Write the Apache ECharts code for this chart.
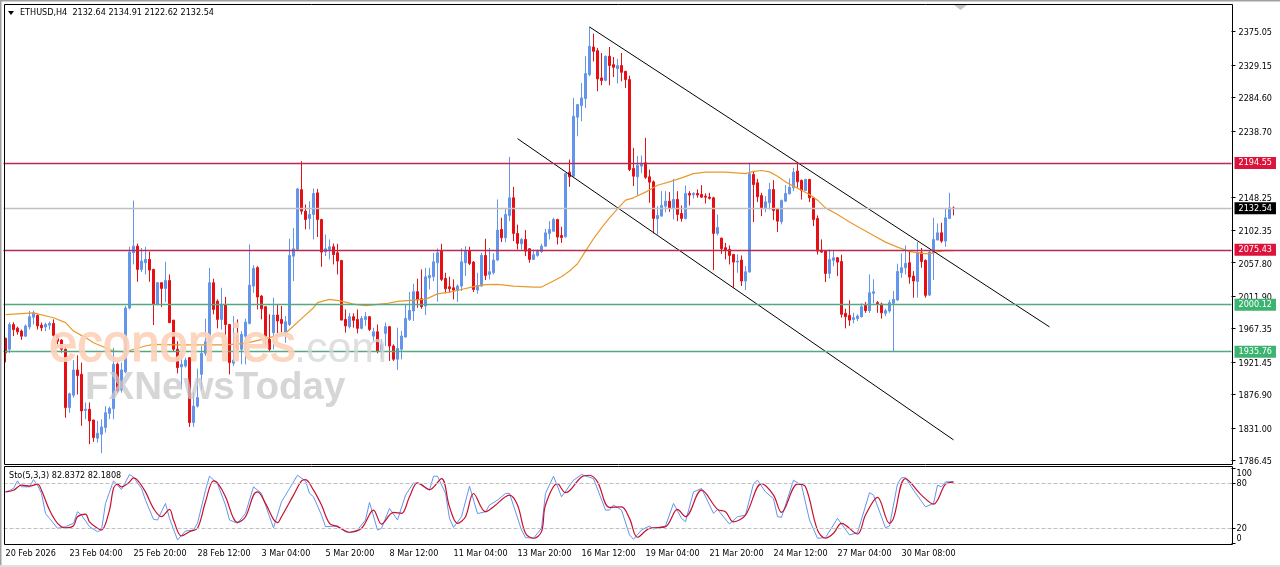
<!DOCTYPE html>
<html><head><meta charset="utf-8">
<style>html,body{margin:0;padding:0;background:#fff}#c{width:1280px;height:567px}</style>
<script src="https://cdn.jsdelivr.net/npm/echarts@6/dist/echarts.min.js"></script>
</head><body><div id="c"></div>
<script>
const tickLabels=['20 Feb 2026','23 Feb 04:00','25 Feb 20:00','28 Feb 12:00','3 Mar 04:00','5 Mar 20:00','8 Mar 12:00','11 Mar 04:00','13 Mar 20:00','16 Mar 12:00','19 Mar 04:00','21 Mar 20:00','24 Mar 12:00','27 Mar 04:00','30 Mar 08:00'];
const priceTicks=[2375.05,2329.15,2284.60,2238.70,2148.25,2102.35,2057.80,2011.90,1967.35,1921.45,1876.90,1831.00,1786.45];
const opens=[1954,1939,1973,1968,1964,1957,1969.6,1983,1985.5,1972,
1969.5,1972,1974.5,1958,1951.7,1939,1859,1876,1910.6,1904.6,
1855,1856.7,1842,1817,1822.4,1831.6,1851,1857.6,1918.4,1883,
1908,1995.6,2071.4,2080.5,2048.6,2057.7,2062.3,2048.6,2000.6,2030.3,
2022.5,2033.5,1979,1939,1914.7,1916,1927.5,1838.4,1861,1904.6,
1933.4,1949.4,2030.3,2005,1980,2000,1973,1919.8,1957,1939,
1957,1974.5,2025.7,2051,2012,1997.4,1952.6,1961.8,1986,1980,
1961.8,1973,2066.8,2076,2158,2128.5,2118.5,2124,2153.6,2117,
2072.8,2076,2079.6,2071.4,2060.9,1980,1970,1983.7,1980,1967.7,
1980,1983.7,1957,1963,1937.6,1960.8,1970,1943.5,1925.3,1939,
1955.8,1980,1991.5,2018,2008.4,1998.3,2037,2038.5,2057.7,2073.7,
2036.2,2024.8,2023.4,2019.8,2025.7,2057.7,2073.7,2058.6,2020.2,2025.7,
2067.8,2041.7,2044,2061.4,2103.4,2092,2122.6,2146.8,2098,2083.7,
2089.7,2076.9,2062.3,2067.8,2073.2,2080.5,2098,2101,2117,2095,
2093.4,2182,2176.5,2257.4,2273.3,2282.9,2315.8,2353.7,2348.7,2311.3,
2308,2341,2329.5,2324,2328.2,2320.4,2309,2187,2175.6,2190.2,
2194.8,2175.6,2168.7,2118,2121.7,2135.4,2142.2,2132.2,2144.5,2125.3,
2118.5,2152.8,2151,2152.8,2151.4,2149,2147.7,2146.8,2098,2091.5,
2078.3,2076,2069.2,2058.6,2061.4,2032.6,2045,2178.8,2167.4,2150,
2132.2,2140,2158.2,2130.8,2114,2142.2,2152.3,2160.5,2183.4,2170.6,
2156.9,2172,2146.8,2118.5,2075,2073.7,2043,2061,2064.6,2059.5,
1988.3,1985.5,1980,1981,1983.7,1999.2,1992,2015.7,2003,2001,
1988.3,1991.5,2002,2006.6,2044,2050.9,2057.7,2039.4,2032,2071.4,
2060.9,2013.4,2071.4,2088.8,2098.8,2087.4,2118.5,2132.64];
const closes=[1934,1973,1966,1963,1957,1971,1983.7,1989,1971,1968.6,
1973,1974.5,1958,1950,1939,1859,1878,1910.6,1903,1854.4,
1856.7,1840.7,1818,1823.8,1832.5,1852,1858,1918.4,1881.8,1910.6,
1995.6,2072.3,2080.5,2048.6,2060,2062.3,2047.6,2000.6,2030.3,2022.5,
2033.5,1975.5,1939,1913.8,1918.4,1924,1838.4,1861,1872.7,1933.4,
1949.4,2030.3,1993.7,1980,2000.6,1973,1920.7,1924.3,1939,1959.5,
1976.4,2027,2050,2010.7,1994.6,1957,1939,1986,1977.8,1974.5,
1976.8,2067.8,2076.9,2159,2128.5,2117,2124,2152.7,2117,2072.3,
2076.9,2079.6,2069,2060,1979,1971,1983.7,1978.7,1967.7,1981.4,
1983.7,1966.3,1963,1936.6,1945.8,1970,1943.5,1925.3,1940.3,1957.2,
1981.4,1992.4,2018,2007.4,1997.4,2038.5,2040.3,2059,2071.4,2034.9,
2022,2022,2020.2,2025.7,2059,2073.7,2056.8,2021.1,2026.6,2067.8,
2040.3,2045.4,2061.4,2102.5,2092,2124,2146.8,2098,2084.2,2089.7,
2073.7,2062.3,2068.7,2073.7,2080.5,2098.8,2103.4,2117,2092.9,2092.4,
2180,2175.6,2258.7,2274.7,2283.8,2317.2,2354.7,2347.8,2309.9,2307.6,
2341,2328.2,2325.9,2328.2,2319,2309,2185.6,2176.5,2191.6,2193.9,
2175,2168.3,2118.5,2122.6,2136.3,2142.2,2132.2,2144.5,2124,2118.5,
2152.8,2150.5,2152.8,2150.5,2147.7,2147.7,2146,2098,2106.2,2077,
2075,2067.8,2058.6,2060,2032.6,2045.4,2179.7,2165,2148.2,2133,
2141.3,2158.2,2129.4,2114.8,2143,2152.8,2161.4,2182,2168.7,2156.9,
2172,2146.8,2117,2073.7,2072.3,2043,2062.3,2064.6,2058.6,1987,
1983.7,1979,1982.4,1984.6,1997.4,1992,2016.6,2018,2000.6,1989,
1992,2003,2007.5,2045.8,2050.9,2056.8,2038,2032.6,2071.4,2059.5,
2013,2072.3,2089.7,2098.8,2087.4,2119.4,2133,2132.54];
const lows=[1921,1934,1957,1959,1952,1956,1966,1973,1966,1964,
1964,1966,1956,1943.5,1934.4,1845,1852,1872.7,1877,1834,
1843,1808.7,1812,1811,1796.4,1824.7,1843,1843,1879.5,1879.5,
1906,1993.7,2055.4,2031.6,2045,2041.7,2031.6,1972.3,1999.2,1997,
2003.8,1975.5,1935.7,1906,1884,1913.8,1832.5,1832.5,1859,1884,
1930,1945,1987,1967.7,1966.3,1957,1904.6,1916,1934.4,1918.4,
1918.4,1973.2,2016.6,1993.7,1980,1943.5,1936.6,1939,1959.5,1960.8,
1948,1971,2032.6,2076,2124,2103.4,2103.4,2089.7,2093,2052.2,
2066.8,2062.3,2055.4,2041.7,1979,1961.8,1967.7,1968.6,1960.8,1966.3,
1971,1964,1950.4,1933.4,1926,1943.5,1923,1923,1910.6,1925.3,
1955,1977.8,1977.8,1996,1994.6,1986,2021.1,2032.6,2004.3,2032.6,
2015.7,2016.6,2007.4,2003.8,2018.9,2039.4,2054.5,2017.5,2015.2,2024.8,
2034,2034.9,2041.7,2060,2086,2086,2114.8,2087.4,2076,2076,
2066.8,2057.7,2061.4,2066,2071.4,2079.6,2089.7,2100.2,2082.8,2085,
2092,2161.8,2175.6,2231.3,2251.9,2270.2,2313.5,2334,2293,2301.2,
2306.7,2301.2,2312.6,2303.5,2306.7,2297.6,2183.3,2162.8,2150,2181,
2172.8,2140,2098,2096.6,2120.8,2127,2127.6,2117,2114.8,2114,
2117,2136.3,2146,2146.8,2146.8,2139,2144.5,2047.7,2095.2,2070,
2062.3,2055.4,2023.5,2044,2025.8,2020.3,2044,2113.5,2140.9,2121.7,
2127,2130.8,2116.2,2099.8,2110.3,2141.3,2151.4,2156,2160.5,2144.5,
2156,2140.9,2108,2069,2071.4,2031.2,2036.2,2053,2039.4,1982.4,
1967.7,1971,1974.5,1977.8,1982.4,1989,1989,2002,1989,1981,
1984.6,1989,1935.7,2005.2,2037,2041.7,2029,2009.8,2009.8,2050.9,
2009.8,2012,2034,2088.8,2085,2079.6,2118,2122.62];
const highs=[1955,1976,1976,1970,1966,1973,1991.5,1992,1987,1975.5,
1975.5,1977,1980,1959,1952.6,1943.5,1879.5,1924,1930.7,1920.7,
1866,1866,1842,1840.7,1843,1861,1860.3,1941,1920.7,1920.7,
1998.3,2079.6,2143,2084,2078,2079.6,2072.8,2049.5,2031.2,2031.2,
2059,2041.7,1979,1950,1934.4,1927.5,1927.5,1879.5,1912.4,1943.5,
1981,2050.8,2035.8,2007.5,2023.4,2011,1973,1984.6,1980,1964,
1981,2082.8,2054.5,2053,2013.4,1998.3,1987,2009.7,2000.6,1998.3,
1984.6,2090.6,2105.6,2160.5,2197,2137.6,2142,2159.6,2159,2118,
2096.5,2089.7,2084,2083.7,2061,1993.7,1989,1988.3,1993.7,1984.6,
1990,1984.6,1968.6,1973,1952.6,1975.5,1971,1945.8,1968.6,1964,
2000.6,2017.5,2029,2035.8,2048.6,2050.8,2050.8,2071.4,2077.3,2083.7,
2044,2038.5,2034.9,2028,2077.3,2080.5,2079.6,2060,2044,2071.4,
2090.6,2078,2070.5,2144.5,2119.4,2131.7,2203,2161.8,2110,2092,
2102.5,2077.8,2076,2076,2084,2104.3,2114.8,2119.4,2118,2107,
2181,2199.3,2283.8,2274.7,2304.4,2341,2381.2,2372,2352.4,2345.5,
2341.9,2353.7,2340,2337.3,2345.5,2320.4,2314.5,2215.3,2204,2204.8,
2229,2185.6,2170.6,2135.4,2156,2156,2154.6,2172.8,2156,2136.3,
2163.7,2156,2154.6,2158.2,2164.2,2152.8,2153.7,2148.2,2124,2092,
2085,2081.5,2069.2,2069.2,2067.8,2053,2194.8,2183.4,2172.8,2153.7,
2149,2167.4,2171,2130.8,2144.5,2164.2,2173.3,2188,2194.8,2172,
2172.8,2172.8,2148,2122.6,2089.7,2073.7,2076,2073.7,2065.5,2068.7,
1994.6,2006,1989,1987,2002,2003.8,2041.7,2035,2005.2,2003,
1994.6,2006.6,2018.9,2056.4,2070.5,2081.5,2074.6,2046.3,2086,2078,
2062.3,2073.7,2119.4,2111.6,2112.5,2131.7,2153.7,2134.91];
const maPoints=[[0,1986.5],[7,1989],[12,1982.3],[15,1975.5],[17,1964],[20,1955],[22,1948],[25,1941],[27,1936.6],[30,1935.3],[32,1939],[35,1943.5],[37,1945.8],[42,1945],[50,1945],[55,1945],[60,1947],[66,1955],[70,1961],[72,1971],[74,1981],[77,1996],[78,2003],[81,2007.5],[84,2005],[87,2001],[90,1999],[95,2001.5],[98,2004.7],[102,2006.5],[105,2007.5],[108,2015],[111,2017.5],[114,2021],[117,2025],[120,2027.6],[123,2028],[127,2025.7],[132,2024.4],[134,2024.4],[136,2030],[139,2038.5],[141,2046.3],[143,2056.4],[145,2073.7],[147,2090.6],[149,2105.7],[151,2119.4],[153,2131.7],[155,2143.6],[157,2146.8],[160,2154.6],[163,2164],[166,2168.7],[169,2174.2],[172,2180],[175,2182],[180,2182],[185,2180],[187,2183],[189,2184.3],[191,2182.4],[193,2176.5],[195,2168.7],[197,2162.8],[199,2157.3],[201,2151.4],[203,2143.6],[205,2133],[208,2124],[211,2113.5],[214,2104.3],[217,2095.2],[220,2086],[223,2079.2],[226,2073.2],[229,2070.5],[231,2070],[233,2072.8],[235,2074.6],[237,2074.2]];
const stochK=[[0,69],[1,71],[2,73.6],[3,83.8],[4,75.8],[6,75.8],[7,85.5],[8,78],[9,67],[10,40],[11,33.6],[13,20.3],[15,22.5],[17,27],[18,42.5],[19,38],[21,22.5],[23,15.8],[24,18],[25,53.6],[27,83.8],[29,72],[31,92.2],[32,89],[34,73.6],[35,58],[37,32.3],[38,31.4],[40,53.6],[41,33.6],[43,4.7],[45,16.7],[47,18],[48,27],[50,71.3],[51,90],[53,80],[55,51.4],[56,31.4],[58,27],[60,40.3],[62,75.8],[64,67],[66,35.8],[67,21],[69,55.8],[71,73.6],[73,91.3],[75,83.8],[76,67],[77,62.5],[79,38],[80,22.5],[83,23.4],[85,15.8],[86,14.5],[88,18],[90,31.4],[91,55],[93,18],[94,20.3],[96,46.9],[98,31.4],[100,64.7],[102,81],[104,79.3],[106,71.3],[107,90],[108,90],[110,67],[111,33.6],[112,21.6],[114,35.8],[116,76.7],[118,40],[120,42.5],[121,51.4],[123,58],[125,67],[126,67],[129,18],[130,7.8],[132,7],[134,20.3],[135,67],[137,90],[139,62.5],[142,84.7],[144,92.2],[147,86.9],[150,44.7],[151,44.7],[152,51.4],[154,44.7],[156,11.4],[157,5.6],[159,18],[161,23.4],[162,19.4],[165,23.4],[167,53.6],[169,33.6],[170,29],[172,69],[174,73.6],[177,40.3],[178,45.6],[181,26],[183,35.8],[185,38],[187,80],[188,84.7],[190,69],[192,60],[193,35.8],[194,35],[197,84.7],[199,78],[201,31.4],[203,7],[205,7.8],[208,33.6],[211,11.4],[213,14.5],[216,68],[217,64.7],[220,21],[221,23.4],[223,80],[224,88],[225,88],[227,71.3],[230,49],[232,53.6],[233,78],[234,75.8],[235,82.4],[237,82.84]];
const stochD=[[0,69],[2,71.3],[4,78],[6,76.7],[8,79.3],[9,71.3],[11,44.7],[13,27],[15,21],[17,23.8],[18,35.8],[20,39.4],[21,29],[23,20.3],[24,18],[26,44.7],[27,73.6],[28,79.3],[29,75.8],[31,82.4],[32,87.8],[33,84.7],[35,69],[37,47],[39,35.8],[41,45.6],[42,31.4],[44,10],[46,15.8],[48,20.3],[50,55.8],[52,83.8],[53,81],[55,62.5],[57,33.6],[58,28.3],[60,35.8],[62,64.7],[63,69],[65,53.6],[67,32.3],[68,27.8],[69,35.8],[72,64.7],[74,83.8],[75,85.5],[77,71.3],[79,51.4],[81,27],[83,22.5],[86,15],[89,20.3],[92,44.7],[94,26],[97,41.6],[99,40.3],[101,62.5],[103,81],[106,72],[109,86.9],[111,49],[113,27],[115,35.8],[117,66.9],[120,42.5],[122,49],[126,64.7],[128,51.4],[130,13.6],[132,7],[134,15.8],[135,51.4],[138,80],[140,68],[141,70.5],[144,89],[146,91.3],[148,82.4],[151,48.2],[154,49],[156,33.6],[158,8.3],[161,20.3],[165,22.5],[168,45.6],[170,35.8],[174,71.3],[178,45.6],[180,42.5],[182,29],[185,38],[189,80],[192,64.7],[194,41.6],[198,79.3],[200,75.8],[203,18],[205,7],[207,13.6],[209,27],[213,12.7],[215,38],[218,61.6],[221,27],[222,33.6],[225,86.9],[229,64.7],[232,52.7],[235,79.3],[237,82.18]];
const channelUpper=[[146,2381.2],[261,1969.7]];
const channelLower=[[128,2228],[237,1814.7]];
const levels=[{v:2194.55,c:'#B92A50',b:'#DC143C'},{v:2075.43,c:'#B92A50',b:'#DC143C'},{v:2000.12,c:'#55A880',b:'#3CB371'},{v:1935.76,c:'#55A880',b:'#3CB371'},{v:2132.54,c:'#C0C0C0',b:'#000000'}];
const stochLevels=[80,20];
const stochTicks=[0,20,80,100];
const FONT='"DejaVu Sans Condensed","DejaVu Sans","Liberation Sans"';
const WM='"Liberation Sans"';
const categories=Array.from({length:307},(_,i)=>(i%16===0&&tickLabels[i/16])||'');
const candleData=opens.map((o,i)=>[o,closes[i],lows[i],highs[i]]);
const chart=echarts.init(document.getElementById('c'),null,{renderer:'canvas'});
chart.setOption({
 animation:false,backgroundColor:'#fff',
 grid:[{left:3.5,top:3.5,width:1228,height:460.5,show:false},
       {left:3.5,top:466.5,width:1228,height:77.5,show:false}],
 xAxis:[{type:'category',gridIndex:0,data:categories,show:false},
        {type:'category',gridIndex:1,data:categories,axisLine:{show:false},
         axisTick:{alignWithLabel:true,length:3,lineStyle:{color:'#000'},interval:i=>i%16===0&&i/16<tickLabels.length},
         axisLabel:{interval:i=>i%16===0&&i/16<tickLabels.length,align:'left',margin:5,fontSize:9,color:'#000',fontFamily:FONT,hideOverlap:false},splitLine:{show:false}}],
 yAxis:[{type:'value',gridIndex:0,position:'right',min:1781.6,max:2413.4,splitLine:{show:false},
         axisLine:{show:false},
         axisTick:{show:true,length:4,lineStyle:{color:'#000'},customValues:priceTicks},
         axisLabel:{customValues:priceTicks,margin:7,fontSize:9,color:'#000',fontFamily:FONT,verticalAlign:'top',lineHeight:3,formatter:v=>v.toFixed(2)}},
        {type:'value',gridIndex:1,position:'right',min:-0.7,max:103,splitLine:{show:false},
         axisLine:{show:false},
         axisTick:{show:true,length:4,lineStyle:{color:'#000'},customValues:stochTicks},
         axisLabel:{customValues:stochTicks,margin:5,fontSize:9,color:'#000',fontFamily:FONT,verticalAlignMinLabel:'bottom',verticalAlignMaxLabel:'top',formatter:v=>String(v)}}],
 series:[
  {type:'candlestick',name:'ETHUSD',xAxisIndex:0,yAxisIndex:0,data:candleData,barWidth:2,
   itemStyle:{color:'#6495ED',borderColor:'#6495ED',color0:'#E60F14',borderColor0:'#E60F14',borderWidth:1},
   markLine:{silent:true,symbol:'none',animation:false,
    data:levels.map(l=>({yAxis:l.v,lineStyle:{color:l.c,width:1.3,type:'solid',opacity:1},
      label:{show:true,position:'end',distance:3,formatter:l.v.toFixed(2),color:'#fff',backgroundColor:l.b,fontSize:9,fontFamily:FONT,padding:[1,4,0,4],lineHeight:11}}))}},
  {type:'line',name:'MA',xAxisIndex:0,yAxisIndex:0,data:maPoints,symbol:'none',lineStyle:{color:'#E89A2C',width:1.2},z:3},
  {type:'line',name:'Channel upper',xAxisIndex:0,yAxisIndex:0,data:channelUpper,symbol:'none',lineStyle:{color:'#000',width:1},z:4},
  {type:'line',name:'Channel lower',xAxisIndex:0,yAxisIndex:0,data:channelLower,symbol:'none',lineStyle:{color:'#000',width:1},z:4},
  {type:'line',name:'%K',xAxisIndex:1,yAxisIndex:1,data:stochK,symbol:'none',lineStyle:{color:'#6495ED',width:1},
   markLine:{silent:true,symbol:'none',label:{show:false},lineStyle:{color:'#C0C0C0',type:'dashed',width:1},data:stochLevels.map(v=>({yAxis:v}))}},
  {type:'line',name:'%D',xAxisIndex:1,yAxisIndex:1,data:stochD,symbol:'none',smooth:0.35,lineStyle:{color:'#C8102E',width:1.2},z:3}
 ],
 graphic:[
  {type:'rect',z:0,shape:{x:0,y:0,width:1280,height:1.5},style:{fill:'#A0A0A0'}},
  {type:'rect',z:0,shape:{x:0,y:0,width:1.5,height:567},style:{fill:'#A0A0A0'}},
  {type:'rect',z:0,shape:{x:0,y:565,width:1280,height:2},style:{fill:'#E0E0E0'}},
  {type:'rect',z:40,shape:{x:4.5,y:4.5,width:1228,height:460},style:{fill:'none',stroke:'#000',lineWidth:1}},
  {type:'rect',z:40,shape:{x:4.5,y:466.5,width:1228,height:78},style:{fill:'none',stroke:'#000',lineWidth:1}},
  {type:'polygon',z:50,shape:{points:[[954,5],[967,5],[960.5,10]]},style:{fill:'#C4C4C4'}},
  {type:'polygon',z:50,shape:{points:[[8,11],[14,11],[11,15]]},style:{fill:'#000'}},
  {type:'text',z:50,style:{x:20,y:13,text:'ETHUSD,H4  2132.64 2134.91 2122.62 2132.54',font:'9px '+FONT,fill:'#000',verticalAlign:'middle'}},
  {type:'text',z:50,style:{x:9,y:476,text:'Sto(5,3,3) 82.8372 82.1808',font:'9px '+FONT,fill:'#000',verticalAlign:'middle'}},
  {type:'text',z:100,style:{x:49,y:347,text:'economies',font:'51px '+WM,fill:'rgba(253,210,185,0.9)',stroke:'rgba(253,210,185,0.9)',lineWidth:1.2,verticalAlign:'middle'}},
  {type:'text',z:100,style:{x:294,y:350,text:'.com',font:'43px '+WM,fill:'rgba(215,215,215,0.8)',verticalAlign:'middle'}},
  {type:'text',z:100,style:{x:85,y:388,text:'FXNewsToday',font:'bold 38.5px '+WM,fill:'rgba(200,200,200,0.75)',verticalAlign:'middle'}}
 ]
});
</script></body></html>
